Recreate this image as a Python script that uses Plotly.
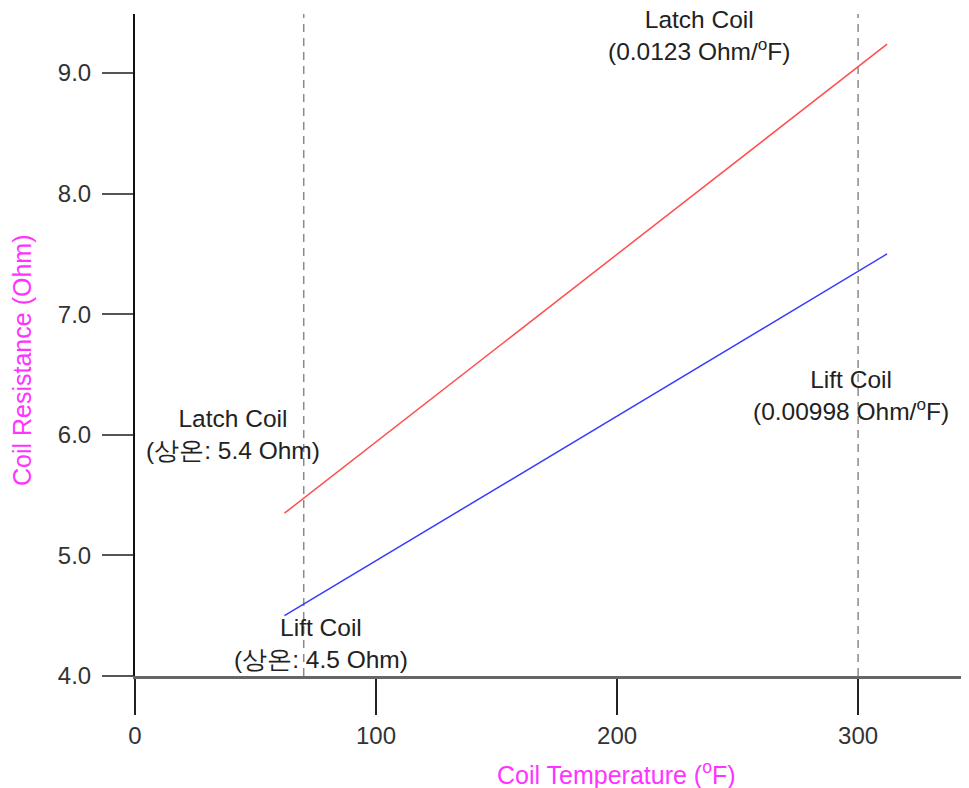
import plotly.graph_objects as go

# Data
temps = [62, 312]
latch_res = [5.35, 9.24]
lift_res = [4.50, 7.50]
ref_temps = [70, 300]
x_ticks = [0, 100, 200, 300]
y_ticks = [4, 5, 6, 7, 8, 9]

labels = [
    dict(x=234, y=9.31, text="Latch Coil<br>(0.0123 Ohm/<sup>o</sup>F)"),
    dict(x=297, y=6.33, text="Lift Coil<br>(0.00998 Ohm/<sup>o</sup>F)"),
    dict(x=40.5, y=6.0, text="Latch Coil<br>(상온: 5.4 Ohm)"),
    dict(x=77, y=4.27, text="Lift Coil<br>(상온: 4.5 Ohm)"),
]

FONT = "Liberation Sans, Arial, sans-serif"

fig = go.Figure()
fig.add_trace(go.Scatter(x=temps, y=latch_res, mode="lines",
                         line=dict(color="#ff4d4d", width=1.5), name="Latch Coil"))
fig.add_trace(go.Scatter(x=temps, y=lift_res, mode="lines",
                         line=dict(color="#3a3aff", width=1.5), name="Lift Coil"))

for t in ref_temps:
    fig.add_shape(type="line", x0=t, x1=t, yref="paper", y0=0, y1=1,
                  line=dict(color="#8a8a8a", width=1.5, dash="8px,6px"), layer="below")

for a in labels:
    fig.add_annotation(x=a["x"], y=a["y"], text=a["text"], showarrow=False,
                       font=dict(family=FONT, size=24.5, color="#222222"),
                       align="center", xanchor="center", yanchor="middle")

fig.add_annotation(xref="paper", yref="paper", x=(616 - 135) / 834, y=0, yshift=-97,
                   xanchor="center", yanchor="middle",
                   text="Coil Temperature (<sup>o</sup>F)", showarrow=False,
                   font=dict(family=FONT, size=25, color="#ff33ff"))
fig.add_annotation(xref="paper", yref="paper", x=0, xshift=-113, y=(676 - 361) / 662,
                   xanchor="center", yanchor="middle",
                   text="Coil Resistance (Ohm)", showarrow=False, textangle=-90,
                   font=dict(family=FONT, size=25, color="#ff33ff"))

fig.update_layout(
    width=961, height=780,
    margin=dict(l=127, r=0, t=6, b=112),
    plot_bgcolor="white", paper_bgcolor="white",
    showlegend=False,
    xaxis=dict(range=[0, 346], tickvals=x_ticks, ticks="outside", ticklen=36,
               tickcolor="#222222", tickwidth=1.5, showgrid=False, zeroline=False,
               showline=True, linecolor="#666666", linewidth=2.5,
               tickfont=dict(family=FONT, size=24, color="#333333")),
    yaxis=dict(range=[4, 9.49], tickvals=y_ticks, tickformat=".1f", ticks="outside",
               ticklen=31, tickcolor="#555555", tickwidth=1.5, showgrid=False,
               zeroline=False, showline=True, linecolor="#111111", linewidth=2,
               ticklabelstandoff=6,
               tickfont=dict(family=FONT, size=24, color="#333333")),
)

fig.write_html("out.html")
